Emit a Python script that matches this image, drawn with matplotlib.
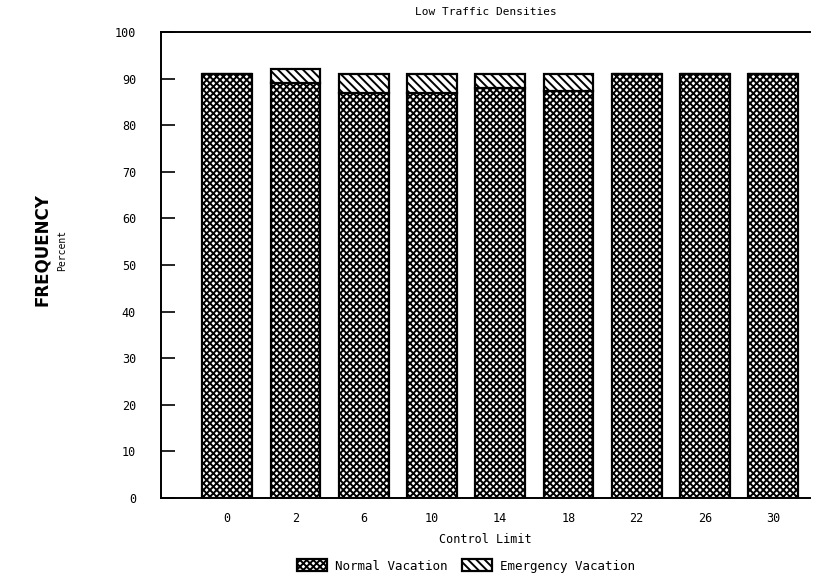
import matplotlib
matplotlib.use("Agg")
import matplotlib.pyplot as plt
import numpy as np

categories = ["0", "2", "6", "10", "14", "18", "22", "26", "30"]
normal_vacation = [91, 89, 87, 87, 88, 87.3, 91, 91, 91]
emergency_vacation = [0, 3, 4, 4, 3, 3.7, 0, 0, 0]
yticks = [0, 10, 20, 30, 40, 50, 60, 70, 80, 90, 100]

plt.rcParams['hatch.linewidth'] = 1.4
plt.rcParams['font.family'] = 'DejaVu Sans Mono'

fig = plt.figure(figsize=(8.3, 5.83), dpi=100)
ax = fig.add_axes([161/830, 1 - 498/583, (810-161)/830, (498-32)/583])

x = np.arange(len(categories))
w = 0.73
b1 = ax.bar(x, normal_vacation, w, color='white', edgecolor='black', hatch='xxxxx',
            linewidth=1.6, label='Normal Vacation')
b2 = ax.bar(x, emergency_vacation, w, bottom=normal_vacation, color='white',
            edgecolor='black', hatch='\\\\\\\\', linewidth=1.6, label='Emergency Vacation')

ax.set_xlim(-0.97, 8.54)
ax.set_ylim(0, 100)
ax.set_yticks(yticks)
ax.set_xticks(x)
ax.set_xticklabels(categories)
ax.tick_params(axis='y', direction='in', length=10, width=1.2, labelsize=8.5, pad=18)
ax.tick_params(axis='x', length=0, labelsize=8.5, pad=10)
for s in ['left', 'bottom', 'top']:
    ax.spines[s].set_linewidth(1.4)
ax.spines['right'].set_visible(False)

ax.set_title('Low Traffic Densities', fontsize=8, pad=12)
ax.set_xlabel('Control Limit', fontsize=8.5, labelpad=6)

fig.text(42/830, 1 - 250/583, 'FREQUENCY', rotation=90, fontsize=12, fontweight='bold',
         ha='center', va='center', family='DejaVu Sans')
fig.text(62/830, 1 - 250/583, 'Percent', rotation=90, fontsize=7,
         ha='center', va='center')

fig.legend(handles=[b1, b2], loc='center', bbox_to_anchor=(466/830, 1 - 566/583),
           ncol=2, frameon=False, fontsize=9, handlelength=2.4, handleheight=1.1,
           columnspacing=1.2, handletextpad=0.6)

fig.savefig('out.png', dpi=100)
